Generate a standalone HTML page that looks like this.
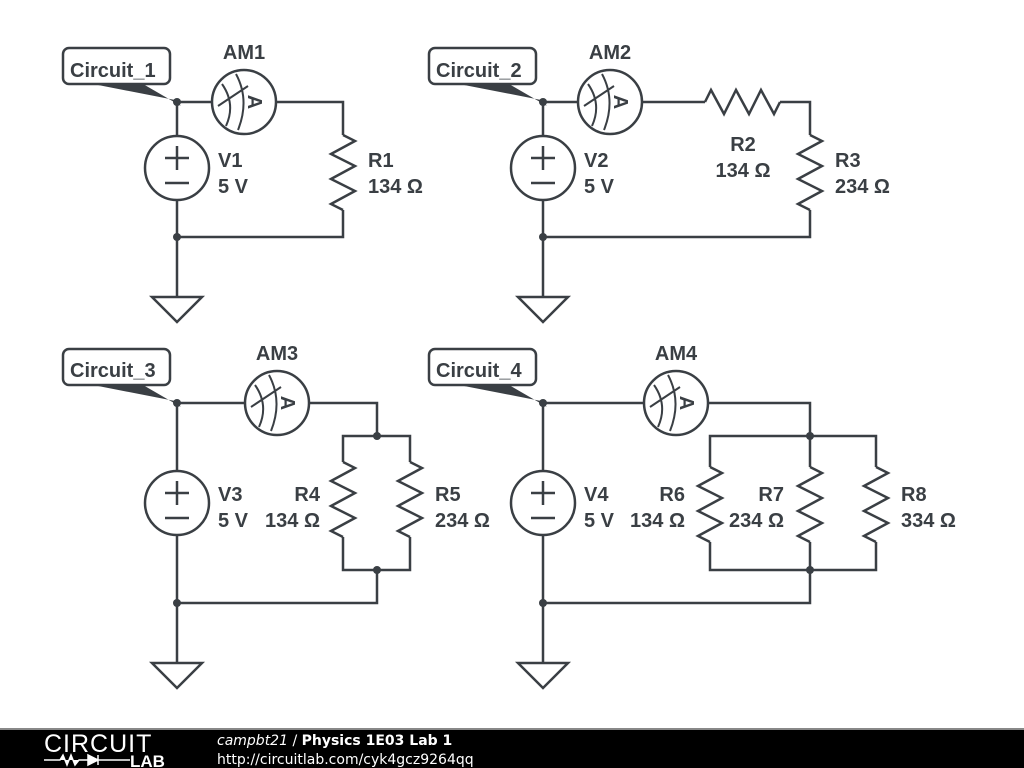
<!DOCTYPE html>
<html><head><meta charset="utf-8"><style>
body{margin:0;width:1024px;height:768px;background:#fff;overflow:hidden}
svg{display:block}
text{font-family:"Liberation Sans",sans-serif;font-weight:bold;font-size:20px;fill:#3a3f44}
</style></head><body>
<svg width="1024" height="768" viewBox="0 0 1024 768">
<defs>
<g id="amm">
<circle cx="0" cy="0" r="32" fill="#fff" stroke="#3a3f44" stroke-width="2.5"/>
<path d="M-22,-18 Q-8,2 -18,24 M-8,-28 Q6,-2 -6,28 M-26,4 L4,-16" fill="none" stroke="#3a3f44" stroke-width="2"/>
<text x="0" y="0" transform="translate(11,0) rotate(90)" text-anchor="middle" dy="7" style="font-size:20px">A</text>
</g>
<g id="src">
<circle cx="0" cy="0" r="32" fill="#fff" stroke="#3a3f44" stroke-width="2.5"/>
<path d="M-12,-10 H12 M0,-22 V2 M-12,15 H12" stroke="#3a3f44" stroke-width="2.5"/>
</g>
<g id="gnd">
<path d="M-25,0 H25 L0,25 Z" fill="#fff" stroke="#3a3f44" stroke-width="2.5"/>
</g>
<path id="res" d="M0,0 L12,6 L-12,19 L12,31 L-12,44 L12,56 L-12,69 L0,75" fill="none" stroke="#3a3f44" stroke-width="2.5"/>
<g id="lbl">
<path d="M30,36 L112,52 L118,58 L80,36 Z" fill="#3a3f44"/>
<rect x="0" y="0" width="107" height="36" rx="6" fill="#fff" stroke="#3a3f44" stroke-width="2.5"/>
</g>
</defs>
<g fill="none" stroke="#3a3f44" stroke-width="2.5">
<path d="M177,102 H343 V135 M343,210 V237 H177 M177,102 V297"/>
<path d="M543,102 H705 M780,102 H810 V135 M810,210 V237 H543 M543,102 V297"/>
<path d="M177,403 H377 V436 M343,462 V436 H410 V462 M343,537 V570 H410 V537 M377,570 V603 H177 M177,403 V663"/>
<path d="M543,403 H810 V436 M710,467 V436 H876 V467 M810,436 V467 M710,542 V570 H876 V542 M810,542 V570 V603 H543 M543,403 V663"/>
</g>
<use href="#lbl" x="63" y="48"/><text x="70" y="77">Circuit_1</text>
<use href="#lbl" x="429" y="48"/><text x="436" y="77">Circuit_2</text>
<use href="#lbl" x="63" y="349"/><text x="70" y="377">Circuit_3</text>
<use href="#lbl" x="429" y="349"/><text x="436" y="377">Circuit_4</text>
<use href="#amm" x="244" y="102"/><text x="244" y="59" text-anchor="middle">AM1</text>
<use href="#amm" x="610" y="102"/><text x="610" y="59" text-anchor="middle">AM2</text>
<use href="#amm" x="277" y="403"/><text x="277" y="360" text-anchor="middle">AM3</text>
<use href="#amm" x="676" y="403"/><text x="676" y="360" text-anchor="middle">AM4</text>
<use href="#src" x="177" y="168"/><text x="218" y="167">V1</text><text x="218" y="193">5 V</text>
<use href="#src" x="543" y="168"/><text x="584" y="167">V2</text><text x="584" y="193">5 V</text>
<use href="#src" x="177" y="503"/><text x="218" y="501">V3</text><text x="218" y="527">5 V</text>
<use href="#src" x="543" y="503"/><text x="584" y="501">V4</text><text x="584" y="527">5 V</text>
<use href="#res" x="343" y="135"/><text x="368" y="167">R1</text><text x="368" y="193">134 Ω</text>
<use href="#res" transform="translate(705,102) rotate(-90)"/><text x="743" y="151" text-anchor="middle">R2</text><text x="743" y="177" text-anchor="middle">134 Ω</text>
<use href="#res" x="810" y="135"/><text x="835" y="167">R3</text><text x="835" y="193">234 Ω</text>
<use href="#res" x="343" y="462"/><text x="320" y="501" text-anchor="end">R4</text><text x="320" y="527" text-anchor="end">134 Ω</text>
<use href="#res" x="410" y="462"/><text x="435" y="501">R5</text><text x="435" y="527">234 Ω</text>
<use href="#res" x="710" y="467"/><text x="685" y="501" text-anchor="end">R6</text><text x="685" y="527" text-anchor="end">134 Ω</text>
<use href="#res" x="810" y="467"/><text x="784" y="501" text-anchor="end">R7</text><text x="784" y="527" text-anchor="end">234 Ω</text>
<use href="#res" x="876" y="467"/><text x="901" y="501">R8</text><text x="901" y="527">334 Ω</text>
<use href="#gnd" x="177" y="297"/><use href="#gnd" x="543" y="297"/>
<use href="#gnd" x="177" y="663"/><use href="#gnd" x="543" y="663"/>
<g fill="#3a3f44">
<circle cx="177" cy="102" r="4"/><circle cx="177" cy="237" r="4"/>
<circle cx="543" cy="102" r="4"/><circle cx="543" cy="237" r="4"/>
<circle cx="177" cy="403" r="4"/><circle cx="177" cy="603" r="4"/>
<circle cx="377" cy="436" r="4"/><circle cx="377" cy="570" r="4"/>
<circle cx="543" cy="403" r="4"/><circle cx="543" cy="603" r="4"/>
<circle cx="810" cy="436" r="4"/><circle cx="810" cy="570" r="4"/>
</g>
<rect x="0" y="729" width="1024" height="39" fill="#000"/>
<rect x="0" y="728" width="1024" height="2" fill="#888"/>
<text x="44" y="752" style="font-weight:normal;font-size:25px;fill:#fff;letter-spacing:1px">CIRCUIT</text>
<path d="M44,760 H60 L63,755 L67,765 L71,755 L75,765 L79,760 H88 M88,755 V765 L98,760 Z M98,755 V765 M98,760 H130" stroke="#fff" stroke-width="1.5" fill="#fff"/>
<text x="130" y="767" style="font-size:17px;fill:#fff">LAB</text>
<text x="217" y="745" style="font-family:'DejaVu Sans',sans-serif;font-size:14px;fill:#fff;font-weight:normal"><tspan font-style="italic">campbt21</tspan> / <tspan font-weight="bold">Physics 1E03 Lab 1</tspan></text>
<text x="217" y="764" style="font-family:'DejaVu Sans',sans-serif;font-size:14px;fill:#fff;font-weight:normal">http://circuitlab.com/cyk4gcz9264qq</text>
</svg>
</body></html>
